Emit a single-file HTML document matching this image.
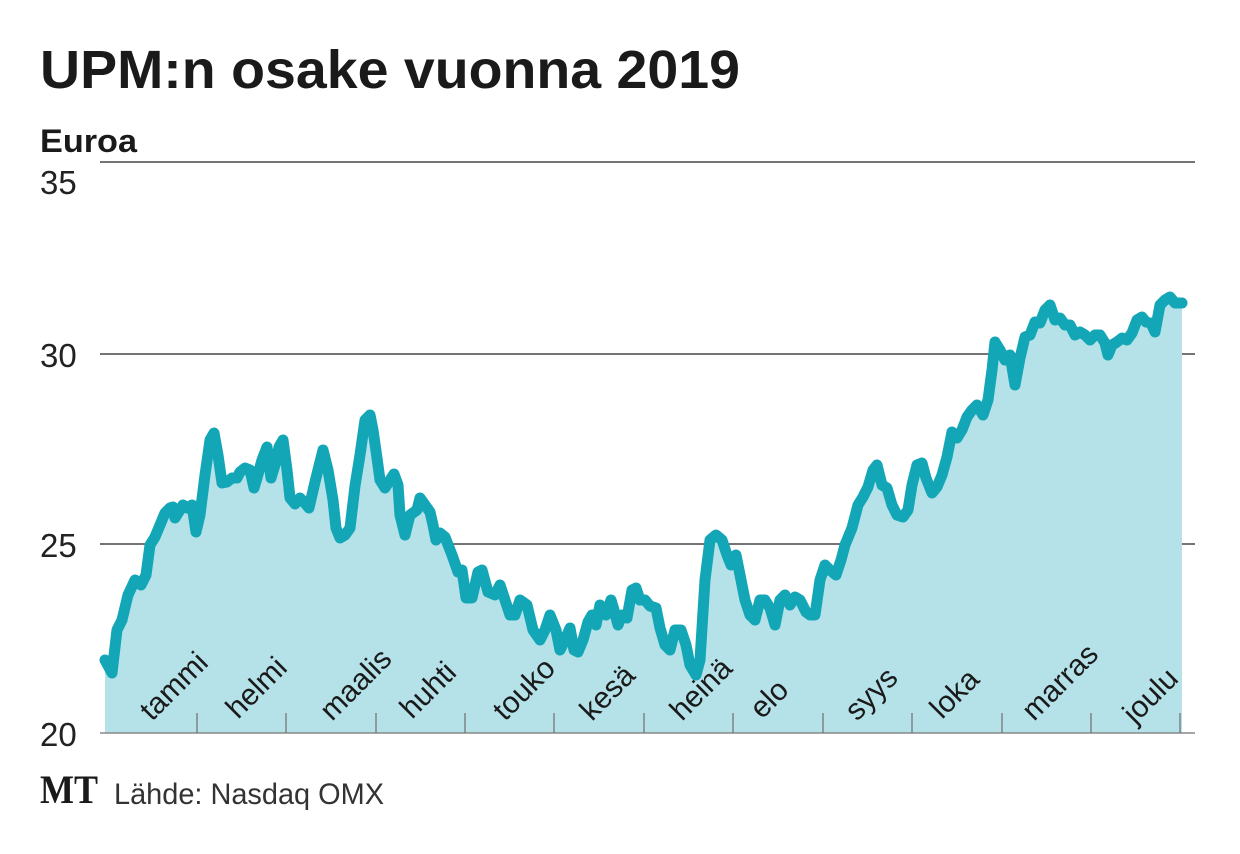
<!DOCTYPE html>
<html><head><meta charset="utf-8"><style>
html,body{margin:0;padding:0;background:#fff;}
svg{display:block;}
</style></head><body>
<svg width="1240" height="854" xmlns="http://www.w3.org/2000/svg" font-family="Liberation Sans, DejaVu Sans, sans-serif">
<text x="40" y="88" font-size="54" font-weight="bold" fill="#1a1a1a" textLength="700" lengthAdjust="spacingAndGlyphs">UPM:n osake vuonna 2019</text>
<text x="40" y="152" font-size="32" font-weight="bold" fill="#1a1a1a" textLength="97" lengthAdjust="spacingAndGlyphs">Euroa</text>
<g stroke="#222" stroke-width="1.3">
<line x1="100" y1="162" x2="1195" y2="162"/>
<line x1="100" y1="354" x2="1195" y2="354"/>
<line x1="100" y1="544" x2="1195" y2="544"/>
</g>
<g font-size="33" fill="#222">
<text x="40" y="194">35</text>
<text x="40" y="367">30</text>
<text x="40" y="557">25</text>
<text x="40" y="746">20</text>
</g>
<polygon fill="#b5e1e8" points="105,733 105,660 112,673 117,630 122,620 128,595 135,580 141,585 146,575 150,545 155,537 160,525 165,513 170,508 173,507 175,518 180,510 183,505 187,508 192,505 196,532 200,515 205,475 210,440 214,433 218,455 222,483 227,482 232,478 237,478 240,472 245,468 250,470 254,488 257,478 262,460 267,447 271,478 275,465 279,447 283,440 287,470 290,498 295,504 300,498 304,502 309,508 315,482 320,462 323,450 328,470 333,500 336,528 340,538 345,535 350,528 355,486 360,455 365,420 370,415 373,430 377,458 380,480 385,488 390,480 394,474 398,485 400,515 405,535 410,515 417,510 420,498 425,505 430,512 433,525 436,540 440,533 445,537 452,555 458,572 462,570 466,598 472,598 478,572 482,570 488,592 495,595 500,585 505,600 510,615 515,615 520,600 527,605 533,630 540,640 545,630 550,615 556,630 560,650 565,640 570,628 574,650 578,652 583,640 588,622 592,615 596,625 600,605 606,615 611,600 614,610 618,625 622,615 627,618 632,590 636,588 640,600 645,600 650,606 656,608 660,628 665,645 670,650 675,630 681,630 686,645 690,665 696,675 700,660 705,580 710,540 716,535 722,540 727,555 731,565 736,555 740,575 745,600 750,615 755,620 760,600 765,600 770,608 775,625 780,600 785,595 790,605 795,597 800,600 806,612 810,615 815,615 820,580 825,565 830,570 836,575 841,560 845,545 852,528 858,505 863,497 868,487 873,470 877,465 882,485 887,488 892,505 897,515 903,517 908,510 912,485 917,465 922,463 926,478 932,493 937,487 942,475 947,457 952,432 957,438 962,430 967,417 972,410 977,405 983,415 988,400 992,370 995,342 1000,350 1005,360 1010,355 1015,385 1020,358 1025,337 1030,335 1035,322 1040,323 1045,310 1050,305 1055,320 1060,318 1065,325 1070,325 1075,335 1080,332 1085,335 1090,340 1095,335 1100,335 1105,343 1108,355 1112,345 1117,342 1122,338 1127,340 1132,333 1137,320 1142,317 1146,322 1151,323 1155,332 1160,305 1165,300 1170,297 1175,303 1182,303 1182,733"/>
<polyline fill="none" stroke="#13a6b6" stroke-width="11" stroke-linejoin="round" stroke-linecap="round" points="105,660 112,673 117,630 122,620 128,595 135,580 141,585 146,575 150,545 155,537 160,525 165,513 170,508 173,507 175,518 180,510 183,505 187,508 192,505 196,532 200,515 205,475 210,440 214,433 218,455 222,483 227,482 232,478 237,478 240,472 245,468 250,470 254,488 257,478 262,460 267,447 271,478 275,465 279,447 283,440 287,470 290,498 295,504 300,498 304,502 309,508 315,482 320,462 323,450 328,470 333,500 336,528 340,538 345,535 350,528 355,486 360,455 365,420 370,415 373,430 377,458 380,480 385,488 390,480 394,474 398,485 400,515 405,535 410,515 417,510 420,498 425,505 430,512 433,525 436,540 440,533 445,537 452,555 458,572 462,570 466,598 472,598 478,572 482,570 488,592 495,595 500,585 505,600 510,615 515,615 520,600 527,605 533,630 540,640 545,630 550,615 556,630 560,650 565,640 570,628 574,650 578,652 583,640 588,622 592,615 596,625 600,605 606,615 611,600 614,610 618,625 622,615 627,618 632,590 636,588 640,600 645,600 650,606 656,608 660,628 665,645 670,650 675,630 681,630 686,645 690,665 696,675 700,660 705,580 710,540 716,535 722,540 727,555 731,565 736,555 740,575 745,600 750,615 755,620 760,600 765,600 770,608 775,625 780,600 785,595 790,605 795,597 800,600 806,612 810,615 815,615 820,580 825,565 830,570 836,575 841,560 845,545 852,528 858,505 863,497 868,487 873,470 877,465 882,485 887,488 892,505 897,515 903,517 908,510 912,485 917,465 922,463 926,478 932,493 937,487 942,475 947,457 952,432 957,438 962,430 967,417 972,410 977,405 983,415 988,400 992,370 995,342 1000,350 1005,360 1010,355 1015,385 1020,358 1025,337 1030,335 1035,322 1040,323 1045,310 1050,305 1055,320 1060,318 1065,325 1070,325 1075,335 1080,332 1085,335 1090,340 1095,335 1100,335 1105,343 1108,355 1112,345 1117,342 1122,338 1127,340 1132,333 1137,320 1142,317 1146,322 1151,323 1155,332 1160,305 1165,300 1170,297 1175,303 1182,303"/>
<line x1="100" y1="733" x2="1195" y2="733" stroke="#888" stroke-width="1.5"/>
<g stroke="#777" stroke-width="1.3">
<line x1="197" y1="713" x2="197" y2="733"/><line x1="286" y1="713" x2="286" y2="733"/>
<line x1="376" y1="713" x2="376" y2="733"/><line x1="465" y1="713" x2="465" y2="733"/>
<line x1="554" y1="713" x2="554" y2="733"/><line x1="644" y1="713" x2="644" y2="733"/>
<line x1="733" y1="713" x2="733" y2="733"/><line x1="823" y1="713" x2="823" y2="733"/>
<line x1="912" y1="713" x2="912" y2="733"/><line x1="1002" y1="713" x2="1002" y2="733"/>
<line x1="1091" y1="713" x2="1091" y2="733"/><line x1="1180" y1="713" x2="1180" y2="733"/>
</g>
<g font-size="30" fill="#1a1a1a">
<text transform="translate(152,722) rotate(-45)">tammi</text>
<text transform="translate(238,720) rotate(-45)">helmi</text>
<text transform="translate(332,722) rotate(-45)">maalis</text>
<text transform="translate(412,720) rotate(-45)">huhti</text>
<text transform="translate(505,722) rotate(-45)">touko</text>
<text transform="translate(592,722) rotate(-45)">kesä</text>
<text transform="translate(682,722) rotate(-45)">heinä</text>
<text transform="translate(762,720) rotate(-45)">elo</text>
<text transform="translate(857,722) rotate(-45)">syys</text>
<text transform="translate(942,720) rotate(-45)">loka</text>
<text transform="translate(1034,722) rotate(-45)">marras</text>
<text transform="translate(1135,725) rotate(-45)">joulu</text>
</g>
<text x="40" y="803" font-family="Liberation Serif, serif" font-size="40" font-weight="bold" fill="#1a1a1a" textLength="58" lengthAdjust="spacingAndGlyphs">MT</text>
<text x="114" y="804" font-size="30" fill="#333" textLength="270" lengthAdjust="spacingAndGlyphs">Lähde: Nasdaq OMX</text>
</svg>
</body></html>
